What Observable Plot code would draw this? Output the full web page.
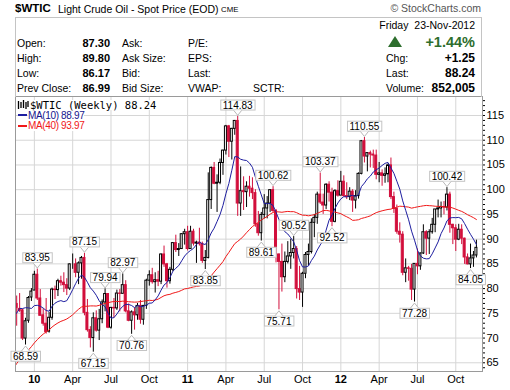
<!DOCTYPE html>
<html><head><meta charset="utf-8">
<script src="https://cdn.jsdelivr.net/npm/d3@7"></script>
<script src="https://cdn.jsdelivr.net/npm/@observablehq/plot@0.6"></script>
<style>
html,body{margin:0;padding:0;background:#fff}
#wrap{position:relative;width:510px;height:390px;overflow:hidden;font-family:"Liberation Sans",Arial,sans-serif;color:#000}
#head{position:relative;width:510px;height:95px}
#chart{width:510px;height:295px}
#chart svg{display:block}
.t{position:absolute;white-space:nowrap;line-height:1;font-size:10.5px}
.b{font-weight:bold;font-size:11px}
.rb{font-weight:bold;font-size:12px}
#box{position:absolute;left:15px;top:17px;width:467px;height:80px;box-sizing:border-box;border:1px solid #c4c4c4;border-bottom:none}
.lg{position:absolute;white-space:nowrap;line-height:10px;height:10px;background:#fff}
</style></head>
<body>
<div id="wrap">
 <div id="head">
  <div id="box"></div>
  <div class="t" style="left:15px;top:3px;font-size:11.5px;font-weight:bold">$WTIC</div>
  <div class="t" style="left:58px;top:4px">Light Crude Oil - Spot Price (EOD)</div>
  <div class="t" style="left:221px;top:6.3px;font-size:7.8px">CME</div>
  <div class="t" style="right:29px;top:2.5px;color:#555">&copy; StockCharts.com</div>

  <div class="t" style="right:35px;top:20.4px">Friday&nbsp;&nbsp;23-Nov-2012</div>

  <div class="t" style="left:17px;top:37.9px">Open:</div>
  <div class="t b" style="right:400px;top:37.6px">87.30</div>
  <div class="t" style="left:122px;top:37.9px">Ask:</div>
  <div class="t" style="left:188px;top:37.9px">P/E:</div>

  <div class="t" style="left:17px;top:52.9px">High:</div>
  <div class="t b" style="right:400px;top:52.6px">89.80</div>
  <div class="t" style="left:122px;top:52.9px">Ask Size:</div>
  <div class="t" style="left:188px;top:52.9px">EPS:</div>

  <div class="t" style="left:17px;top:67.9px">Low:</div>
  <div class="t b" style="right:400px;top:67.6px">86.17</div>
  <div class="t" style="left:122px;top:67.9px">Bid:</div>
  <div class="t" style="left:188px;top:67.9px">Last:</div>

  <div class="t" style="left:17px;top:82.9px">Prev Close:</div>
  <div class="t b" style="right:400px;top:82.6px">86.99</div>
  <div class="t" style="left:122px;top:82.9px">Bid Size:</div>
  <div class="t" style="left:188px;top:82.9px">VWAP:</div>
  <div class="t" style="left:253px;top:82.9px">SCTR:</div>

  <div style="position:absolute;left:388px;top:35.5px;width:0;height:0;border-left:7px solid transparent;border-right:7px solid transparent;border-bottom:11px solid #2d6e2d"></div>
  <div class="t" style="right:35px;top:34.9px;font-size:14.5px;font-weight:bold;color:#2d6e2d">+1.44%</div>
  <div class="t" style="left:386px;top:52.9px">Chg:</div>
  <div class="t rb" style="right:35px;top:52.1px">+1.25</div>
  <div class="t" style="left:386px;top:67.9px">Last:</div>
  <div class="t rb" style="right:35px;top:67.1px">88.24</div>
  <div class="t" style="left:386px;top:82.9px">Volume:</div>
  <div class="t rb" style="right:35px;top:82.1px">852,005</div>
 </div>
 <div id="chart"></div>

 <svg style="position:absolute;left:17px;top:100px" width="12" height="10"><path d="M1.5 1v8M4 2v6M6.5 0v8M9 2v7M11 1v6" stroke="#000" stroke-width="1.3" fill="none"/></svg>
 <div class="lg" style="left:30px;top:100px;font-family:'DejaVu Sans Mono',monospace;font-size:10.5px">$WTIC (Weekly) 88.24</div>
 <div style="position:absolute;left:18px;top:114px;width:9px;height:2px;background:#1e1ea0"></div>
 <div class="lg" style="left:28px;top:110.6px;font-size:10px;letter-spacing:-0.35px;color:#14148c">MA(10) 88.97</div>
 <div style="position:absolute;left:18px;top:125px;width:9px;height:2px;background:#f01818"></div>
 <div class="lg" style="left:28px;top:121.3px;font-size:10px;letter-spacing:-0.35px;color:#f01818">MA(40) 93.97</div>
</div>
<script>
// Weekly candles, weeks starting Monday 16-Nov-2009 through 19-Nov-2012
const open = [
76.4,76.9,75.9,75.6,69.9,73.5,78.2,
79.6,82.8,78.0,74.6,72.9,71.3,74.1,79.8,79.7,81.5,81.2,80.7,80.0,84.9,84.9,83.2,85.1,86.2,75.1,71.6,70.0,74.0,71.5,73.8,77.2,78.9,72.1,76.1,76.0,79.0,78.95,80.7,75.4,73.5,75.2,74.6,76.5,73.7,76.5,81.6,82.7,81.3,81.7,81.4,86.9,84.9,81.5,83.8,89.2,87.8,88.0,91.0,
91.4,88.0,91.5,89.1,89.3,89.0,85.6,86.2,97.9,104.4,101.2,101.4,105.4,107.9,112.8,109.7,112.3,113.9,97.2,99.7,99.5,100.6,100.2,99.3,93.0,91.2,94.9,96.2,97.2,99.9,95.7,86.9,85.4,82.3,85.4,86.5,87.2,88.0,79.9,79.2,83.0,86.8,87.4,93.3,94.3,99.0,97.4,96.8,101.0,99.4,93.5,99.7,
98.8,101.6,98.7,98.5,99.6,97.8,98.7,103.2,109.8,106.7,107.4,107.1,106.9,103.0,103.3,102.8,103.1,104.9,98.5,96.1,91.5,90.9,83.2,84.1,84.0,79.8,85.0,84.5,87.1,91.4,90.1,91.4,92.9,96.0,96.2,96.5,96.4,99.0,92.9,92.2,89.9,91.9,90.1,86.3,84.9,86.1,86.7];
const high = [
80.5,78.5,79.0,75.8,74.0,78.4,80.0,
83.5,83.95,79.8,75.9,78.0,75.2,80.1,80.5,81.9,82.5,83.2,82.0,85.0,87.0,86.0,85.4,86.5,87.15,77.8,72.3,75.1,75.5,75.8,77.7,79.94,79.0,76.2,78.0,79.7,79.8,82.97,81.6,76.9,75.5,76.1,77.0,77.6,76.6,81.9,83.6,84.1,83.2,83.5,87.0,88.6,85.1,84.3,89.3,90.8,89.1,91.1,92.0,
92.6,92.6,92.0,89.6,92.2,89.4,87.7,103.4,104.6,105.5,103.0,106.2,108.0,113.0,113.0,112.4,114.0,114.83,104.6,102.6,101.6,102.7,102.4,100.0,95.6,95.4,99.0,98.6,100.0,100.62,96.0,87.0,89.0,87.4,89.5,90.0,90.52,88.5,84.5,83.3,87.3,89.0,94.1,95.0,99.5,103.37,99.1,101.2,101.6,100.3,100.0,101.8,
103.7,102.8,101.4,100.4,100.0,99.8,103.4,109.95,110.55,107.4,107.8,108.0,108.0,105.5,104.0,104.4,105.2,106.4,99.5,96.9,93.3,91.5,86.0,84.5,84.9,85.0,88.0,87.2,92.9,91.7,91.9,94.2,96.0,97.9,97.5,97.6,100.42,99.5,93.0,92.9,93.0,92.9,90.2,87.0,89.0,87.5,89.8];
const low = [
76.2,72.4,75.2,69.5,68.59,73.0,77.4,
79.6,77.6,74.5,72.4,70.8,71.0,73.6,77.8,78.4,80.5,79.2,78.6,79.6,83.9,82.2,80.8,81.9,74.5,71.2,68.0,67.15,71.2,69.5,72.9,75.3,71.9,71.8,74.0,75.6,75.3,78.9,75.1,73.3,70.76,71.6,73.6,72.8,72.6,75.8,80.5,80.9,79.1,80.4,80.8,84.3,80.1,80.9,83.4,87.3,86.5,87.9,88.8,
87.6,88.0,88.6,85.1,88.6,85.1,83.85,86.0,96.0,101.0,95.4,101.0,102.9,107.0,106.5,106.0,111.0,94.6,94.6,95.8,96.4,98.5,98.0,92.4,90.6,89.61,94.1,94.1,95.4,95.4,85.2,75.71,79.3,81.2,85.0,83.9,86.0,77.9,77.6,76.2,82.0,84.6,87.0,90.3,93.0,97.0,95.0,96.0,97.5,92.52,93.3,98.5,
98.8,98.5,98.0,97.8,95.4,96.1,98.1,103.0,105.4,103.6,104.4,104.3,102.0,101.4,100.7,101.3,101.4,98.0,95.2,91.0,89.2,82.6,81.2,81.5,77.6,77.28,82.8,83.7,86.9,86.7,86.9,91.0,91.3,94.3,94.3,94.9,95.7,91.2,88.9,87.5,89.7,88.9,84.9,84.8,84.05,84.3,86.2];
const close = [
76.7,76.1,75.5,69.9,73.4,78.1,79.4,
82.8,78.0,74.5,72.9,71.2,74.1,79.8,79.7,81.5,81.2,80.7,80.0,84.9,84.9,83.2,85.1,86.2,75.1,71.6,70.0,74.0,71.5,73.8,77.2,78.9,72.1,76.1,76.0,79.0,78.95,80.7,75.4,73.5,75.2,74.6,76.5,73.7,76.5,81.6,82.7,81.3,81.7,81.4,86.9,84.9,81.5,83.8,89.2,87.8,88.0,91.0,91.4,
88.0,91.5,89.1,89.3,89.0,85.6,86.2,97.9,104.4,101.2,101.4,105.4,107.9,112.8,109.7,112.3,113.9,97.2,99.7,99.5,100.6,100.2,99.3,93.0,91.2,94.9,96.2,97.2,99.9,95.7,86.9,85.4,82.3,85.4,86.5,87.2,88.0,79.9,79.2,83.0,86.8,87.4,93.3,94.3,99.0,97.4,96.8,101.0,99.4,93.5,99.7,98.8,
101.6,98.7,98.5,99.6,97.8,98.7,103.2,109.8,106.7,107.4,107.1,106.9,103.0,103.3,102.8,103.1,104.9,98.5,96.1,91.5,90.9,83.2,84.1,84.0,79.8,85.0,84.5,87.1,91.4,90.1,91.4,92.9,96.0,96.2,96.5,96.4,99.0,92.9,92.2,89.9,91.9,90.1,86.3,84.9,86.1,86.7,88.24];
// weekly closes before the first visible week (feed the moving averages at the left edge)
const priorCloses = [38.94,44.76,45.52,46.25,51.06,52.38,52.51,52.24,50.33,51.55,53.20,58.63,56.34,61.67,66.31,68.44,72.04,69.55,69.16,66.73,59.89,63.56,68.05,69.45,70.93,67.51,73.89,72.74,68.02,69.29,72.04,66.02,69.95,71.77,78.53,80.50,77.00,77.43,76.35];

const xTickDates = ["2010-01-04","2010-04-05","2010-07-05","2010-10-04","2011-01-03","2011-04-04","2011-07-04","2011-10-03","2012-01-02","2012-04-02","2012-07-02","2012-10-01"];
const xTickLabels = ["10","Apr","Jul","Oct","11","Apr","Jul","Oct","12","Apr","Jul","Oct"];
const yearLabels = ["10","11","12"];
const yGridValues = [65,70,75,80,85,90,95,100,105,110,115];

const peakIdx = [8,24,31,37,76,88,95,104,119,147];
const peakVal = [83.95,87.15,79.94,82.97,114.83,100.62,90.52,103.37,110.55,100.42];
const troughIdx = [4,27,40,65,84,90,108,136,155];
const troughVal = [68.59,67.15,70.76,83.85,89.61,75.71,92.52,77.28,84.05];

const red = "#d20f3c";
const firstWeek = new Date(Date.UTC(2009,10,16));
const dates = close.map((_, i) => d3.utcDay.offset(firstWeek, 7 * i));
const all = priorCloses.concat(close);
const P = priorCloses.length;
const ma = n => close.map((_, i) => d3.mean(all.slice(i + P - n + 1, i + P + 1)));
const ma10 = ma(10), ma40 = ma(40);

const rows = close.map((c, i) => {
  const prev = i ? close[i - 1] : priorCloses[P - 1];
  const col = c >= prev ? "#000" : red;
  return {date: dates[i], open: open[i], high: high[i], low: low[i], close: c,
          color: col, fill: c > open[i] ? "#fff" : col, ma10: ma10[i], ma40: ma40[i]};
});
const hiRows = peakIdx.map((k, j) => ({date: dates[k], value: peakVal[j]}));
const loRows = troughIdx.map((k, j) => ({date: dates[k], value: troughVal[j]}));
const tickDates = xTickDates.map(s => new Date(s + "T00:00Z"));
const labelByTime = new Map(tickDates.map((d, i) => [+d, xTickLabels[i]]));

const t0 = Date.UTC(2010, 0, 1), day = 864e5;
const vDown = {draw(ctx) { ctx.moveTo(-4, -6); ctx.lineTo(0, -1); ctx.lineTo(4, -6); }};
const vUp = {draw(ctx) { ctx.moveTo(-4, 6); ctx.lineTo(0, 1); ctx.lineTo(4, 6); }};
const half = 57 * 3600e3;

const chart = Plot.plot({
  width: 510, height: 295,
  marginTop: 1, marginBottom: 19, marginLeft: 15, marginRight: 28,
  style: {fontFamily: "'Liberation Sans', Arial, sans-serif", fontSize: "11px", background: "#fff", color: "#000"},
  x: {type: "utc", domain: [new Date(t0 - 41.81 * day), new Date(t0 + 1067.46 * day)],
      ticks: tickDates, tickFormat: d => labelByTime.get(+d) ?? "", tickSize: 0, tickPadding: 4, label: null},
  y: {domain: [63.24, 118.84], axis: "right", ticks: d3.range(64, 119),
      tickFormat: d => d % 5 === 0 ? String(d) : "", tickSize: 2, tickPadding: 2, label: null},
  marks: [
    Plot.ruleY(yGridValues, {stroke: "#d6d6d6"}),
    Plot.ruleX(tickDates, {stroke: "#d6d6d6"}),
    Plot.ruleX(rows, {x: "date", y1: "low", y2: "high", stroke: "color", strokeWidth: 1, clip: true}),
    Plot.rect(rows, {x1: d => new Date(+d.date - half), x2: d => new Date(+d.date + half),
                     y1: "open", y2: "close", fill: "fill", stroke: "color", strokeWidth: 1, clip: true}),
    Plot.line(rows, {x: "date", y: "ma40", stroke: "#f01818", strokeWidth: 1, clip: true}),
    Plot.line(rows, {x: "date", y: "ma10", stroke: "#1e1ea0", strokeWidth: 1, clip: true}),
    Plot.frame({stroke: "#9a9a9a"}),
    Plot.text(hiRows, {x: "date", y: "value", text: d => d.value.toFixed(2), dy: -11, fontSize: 10, fill: "#000"}),
    Plot.text(loRows, {x: "date", y: "value", text: d => d.value.toFixed(2), dy: 11.5, fontSize: 10, fill: "#000"}),
    Plot.dot(hiRows, {x: "date", y: "value", symbol: vDown, fill: "#fff", stroke: "#b8b8b8", strokeWidth: 1}),
    Plot.dot(loRows, {x: "date", y: "value", symbol: vUp, fill: "#fff", stroke: "#b8b8b8", strokeWidth: 1})
  ]
});
document.getElementById("chart").append(chart);

// white boxes behind the high/low annotations
const NS = "http://www.w3.org/2000/svg";
chart.querySelectorAll('g[aria-label="text"] text').forEach(t => {
  const b = t.getBBox();
  const r = document.createElementNS(NS, "rect");
  r.setAttribute("x", b.x - 2); r.setAttribute("y", b.y + 0.5);
  r.setAttribute("width", b.width + 4); r.setAttribute("height", b.height - 1);
  r.setAttribute("fill", "#fff"); r.setAttribute("stroke", "#c4c4c4");
  const tr = t.getAttribute("transform");
  if (tr) r.setAttribute("transform", tr);
  t.parentNode.insertBefore(r, t);
});
// bold year labels on the time axis
chart.querySelectorAll('g[aria-label^="x-axis"] text').forEach(t => {
  if (yearLabels.includes(t.textContent)) t.setAttribute("font-weight", "bold");
});
</script>
</body></html>
